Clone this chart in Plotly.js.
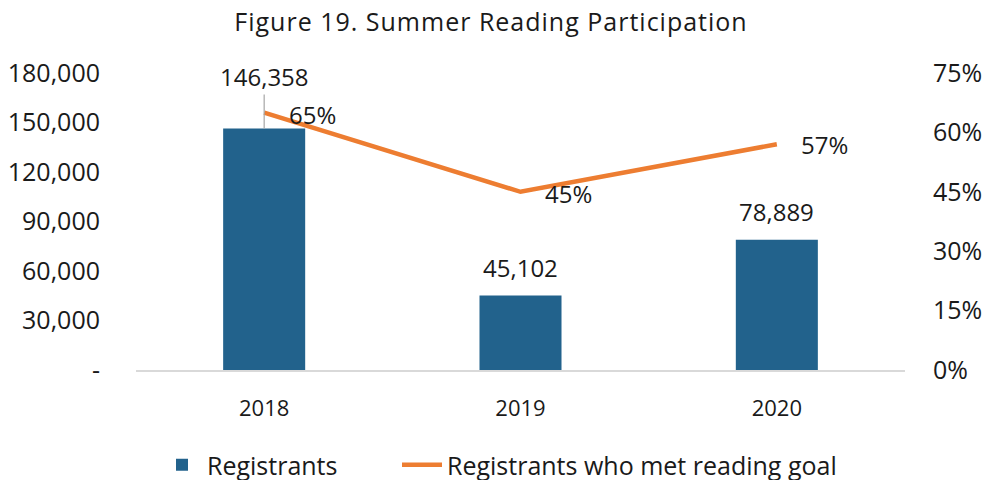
<!DOCTYPE html>
<html>
<head>
<meta charset="utf-8">
<script src="https://cdn.plot.ly/plotly-3.0.1.min.js"></script>
<style>
html,body{margin:0;padding:0;background:#fff}
#chart{width:985px;height:480px}
#chart .gtitle{letter-spacing:1px}
</style>
</head>
<body>
<div id="chart"></div>
<script>
const years = ["2018", "2019", "2020"];
const registrants = [146358, 45102, 78889];
const metGoal = [0.65, 0.45, 0.57];
const leftTicks = [0, 30000, 60000, 90000, 120000, 150000, 180000];
const leftTickText = ["-", "30,000", "60,000", "90,000", "120,000", "150,000", "180,000"];
const rightTicks = [0, 0.15, 0.30, 0.45, 0.60, 0.75];
const rightTickText = ["0%", "15%", "30%", "45%", "60%", "75%"];

const FONT = "'Open Sans', 'Noto Sans', sans-serif";
const TXT = '#1a1a1a';
const fmtNum = v => v.toLocaleString('en-US');
const fmtPct = v => Math.round(v * 100) + '%';

const traces = [
  {
    type: 'bar', name: 'Registrants', x: years, y: registrants,
    marker: {color: '#22628C'}, width: 0.32, yaxis: 'y', legend: 'legend'
  },
  {
    type: 'scatter', mode: 'lines', name: 'Registrants who met reading goal',
    x: years, y: metGoal, yaxis: 'y2', legend: 'legend2',
    line: {color: '#ED7D31', width: 4.5}
  }
];

const annotations = [];
registrants.forEach((v, i) => {
  if (i === 0) {
    annotations.push({x: i, y: v, xref: 'x', yref: 'y', text: fmtNum(v),
      showarrow: true, ax: 0, ay: -52, arrowhead: 0, arrowwidth: 1.2, arrowcolor: '#A6A6A6',
      standoff: 0, startstandoff: 0, font: {size: 24, color: TXT, family: FONT}});
  } else {
    annotations.push({x: i, y: v, xref: 'x', yref: 'y', text: fmtNum(v),
      showarrow: false, yshift: 28, font: {size: 24, color: TXT, family: FONT}});
  }
});
const pctShift = [[48, -2], [48, -2], [48, 0]];
metGoal.forEach((v, i) => {
  annotations.push({x: i, y: v, xref: 'x', yref: 'y2', text: fmtPct(v),
    showarrow: false, xshift: pctShift[i][0], yshift: pctShift[i][1],
    font: {size: 24, color: TXT, family: FONT}});
});

const legendBase = {orientation: 'h', xref: 'container', xanchor: 'left',
  y: 1 - 465/480, yref: 'container', yanchor: 'middle',
  font: {size: 25, family: FONT, color: TXT}, itemwidth: 40, bgcolor: 'rgba(0,0,0,0)'};

const layout = {
  width: 985, height: 480,
  margin: {l: 136, r: 80, t: 73, b: 110, autoexpand: false},
  paper_bgcolor: '#fff', plot_bgcolor: '#fff',
  font: {family: FONT, size: 24, color: TXT},
  title: {text: 'Figure 19. Summer Reading Participation', x: 491/985, xref: 'container', xanchor: 'center',
    y: 1 - 22/480, yref: 'container', yanchor: 'middle', font: {size: 25, family: FONT, color: TXT}},
  showlegend: true,
  legend: Object.assign({}, legendBase, {x: 157/985}),
  legend2: Object.assign({}, legendBase, {x: 397/985}),
  xaxis: {type: 'category', range: [-0.5, 2.5], showline: true, linecolor: '#D9D9D9', linewidth: 1.5,
    showgrid: false, zeroline: false, ticks: 'outside', ticklen: 18, tickcolor: 'rgba(0,0,0,0)',
    tickfont: {size: 22}},
  yaxis: {range: [0, 180000], tickvals: leftTicks, ticktext: leftTickText, showgrid: false,
    zeroline: false, showline: false, ticks: 'outside', ticklen: 30, tickcolor: 'rgba(0,0,0,0)',
    tickfont: {size: 25}},
  yaxis2: {range: [0, 0.75], overlaying: 'y', side: 'right', tickvals: rightTicks, ticktext: rightTickText,
    showgrid: false, zeroline: false, showline: false, ticks: 'outside', ticklen: 22,
    tickcolor: 'rgba(0,0,0,0)', tickfont: {size: 25}},
  annotations: annotations,
  hovermode: false
};

Plotly.newPlot('chart', traces, layout, {staticPlot: true, displayModeBar: false});
</script>
</body>
</html>
